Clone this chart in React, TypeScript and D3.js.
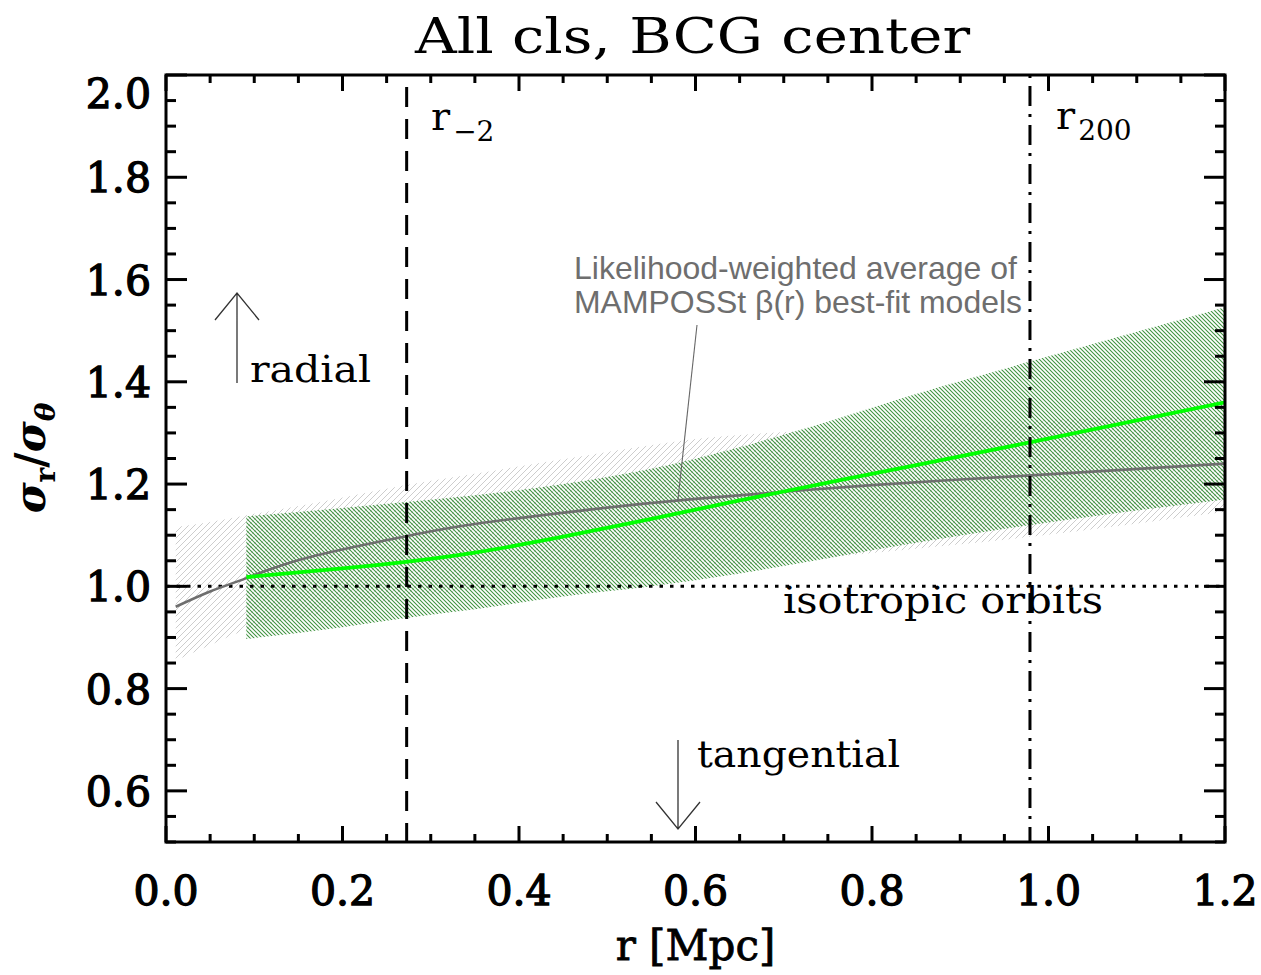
import React, { useEffect, useRef } from "react";
import * as d3 from "d3";

// grey: likelihood-weighted average of MAMPOSSt beta(r) best-fit models
const greyR = [0.011, 0.05, 0.091, 0.16, 0.272, 0.35, 0.48, 0.6, 0.8, 0.98, 1.2];
const greyMid = [0.96, 0.99, 1.016, 1.056, 1.098, 1.122, 1.15, 1.171, 1.198, 1.217, 1.24];
const greyHi = [1.116, 1.126, 1.139, 1.16, 1.198, 1.22, 1.257, 1.288, 1.31, 1.325, 1.335];
const greyLo = [0.855, 0.885, 0.915, 0.94, 0.975, 0.995, 1.01, 1.03, 1.065, 1.097, 1.146];

// green: this work
const greenR = [0.091, 0.2, 0.272, 0.35, 0.45, 0.55, 0.65, 0.75, 0.85, 0.98, 1.2];
const greenMid = [1.018, 1.035, 1.048, 1.066, 1.097, 1.132, 1.168, 1.203, 1.237, 1.282, 1.36];
const greenHi = [1.137, 1.153, 1.165, 1.178, 1.2, 1.23, 1.272, 1.322, 1.376, 1.44, 1.546];
const greenLo = [0.897, 0.92, 0.938, 0.955, 0.98, 1.0, 1.025, 1.055, 1.085, 1.12, 1.17];

const xTicks = [0, 0.2, 0.4, 0.6, 0.8, 1.0, 1.2];
const yTicks = [0.6, 0.8, 1.0, 1.2, 1.4, 1.6, 1.8, 2.0];
const rMinus2 = 0.2727;
const r200 = 0.979;

const serif = "'DejaVu Serif', serif";

const App = () => {
  const ref = useRef<SVGSVGElement>(null);

  useEffect(() => {
    const width = 1261;
    const height = 975;
    const svg = d3.select(ref.current);
    svg.selectAll("*").remove();
    svg.attr("width", width).attr("height", height);

    const x = d3.scaleLinear().domain([0, 1.2]).range([166, 1225]);
    const y = d3.scaleLinear().domain([0.5, 2.0]).range([842, 75]);
    const [x0, x1] = x.range();
    const [y0, y1] = y.range();

    const defs = svg.append("defs");
    defs
      .append("clipPath")
      .attr("id", "plotclip")
      .append("rect")
      .attr("x", x0)
      .attr("y", y1)
      .attr("width", x1 - x0)
      .attr("height", y0 - y1);

    // hatch patterns
    defs
      .append("pattern")
      .attr("id", "hatchGrey")
      .attr("patternUnits", "userSpaceOnUse")
      .attr("width", 6)
      .attr("height", 6)
      .append("path")
      .attr("d", "M-1,7 L7,-1 M-1,1 L1,-1 M5,7 L7,5")
      .attr("stroke", "#cacaca")
      .attr("stroke-width", 0.95);
    defs
      .append("pattern")
      .attr("id", "hatchGreen")
      .attr("patternUnits", "userSpaceOnUse")
      .attr("width", 4)
      .attr("height", 4)
      .append("path")
      .attr("d", "M-1,-1 L5,5 M-1,3 L1,5 M3,-1 L5,1")
      .attr("stroke", "#3f923f")
      .attr("stroke-width", 1.05);

    const plot = svg.append("g").attr("clip-path", "url(#plotclip)");

    const band = (rs, lo, hi) =>
      d3
        .area<number>()
        .x((d) => x(rs[d]))
        .y0((d) => y(lo[d]))
        .y1((d) => y(hi[d]))
        .curve(d3.curveMonotoneX)(d3.range(rs.length));
    const line = (rs, vs) =>
      d3
        .line<number>()
        .x((d) => x(rs[d]))
        .y((d) => y(vs[d]))
        .curve(d3.curveNatural)(d3.range(rs.length));

    plot.append("path").attr("d", band(greyR, greyLo, greyHi)).attr("fill", "url(#hatchGrey)");
    plot.append("path").attr("d", band(greenR, greenLo, greenHi)).attr("fill", "url(#hatchGreen)");

    // isotropic line
    plot
      .append("line")
      .attr("x1", x0)
      .attr("x2", x1)
      .attr("y1", y(1))
      .attr("y2", y(1))
      .attr("stroke", "#000")
      .attr("stroke-width", 3)
      .attr("stroke-dasharray", "3.5,7");

    plot
      .append("path")
      .attr("d", line(greyR, greyMid))
      .attr("fill", "none")
      .attr("stroke", "#6e6e6e")
      .attr("stroke-width", 2.6);
    plot
      .append("path")
      .attr("d", line(greenR, greenMid))
      .attr("fill", "none")
      .attr("stroke", "#00ff00")
      .attr("stroke-width", 3.8);

    // r_-2 and r200
    plot
      .append("line")
      .attr("x1", x(rMinus2))
      .attr("x2", x(rMinus2))
      .attr("y1", y1)
      .attr("y2", y0)
      .attr("stroke", "#000")
      .attr("stroke-width", 3)
      .attr("stroke-dasharray", "20,12")
      .attr("stroke-dashoffset", -12);
    plot
      .append("line")
      .attr("x1", x(r200))
      .attr("x2", x(r200))
      .attr("y1", y1)
      .attr("y2", y0)
      .attr("stroke", "#000")
      .attr("stroke-width", 3)
      .attr("stroke-dasharray", "3,8,20,8");

    // annotation pointer
    svg
      .append("line")
      .attr("x1", 697)
      .attr("y1", 325)
      .attr("x2", x(0.58))
      .attr("y2", y(1.168))
      .attr("stroke", "#666")
      .attr("stroke-width", 1.1);

    const ann = svg
      .append("g")
      .attr("font-family", "'Liberation Sans', Arial, sans-serif")
      .attr("font-size", 32)
      .attr("fill", "#6e6e6e");
    ann
      .append("text")
      .attr("x", 574)
      .attr("y", 279)
      .attr("textLength", 443)
      .attr("lengthAdjust", "spacingAndGlyphs")
      .text("Likelihood-weighted average of");
    ann
      .append("text")
      .attr("x", 574)
      .attr("y", 313)
      .attr("textLength", 448)
      .attr("lengthAdjust", "spacingAndGlyphs")
      .text("MAMPOSSt β(r) best-fit models");

    // arrows
    const arrow = (ax, ya, yb) => {
      const dir = yb < ya ? 1 : -1;
      svg
        .append("path")
        .attr(
          "d",
          `M${ax},${ya} L${ax},${yb} M${ax - 22},${yb + dir * 27} L${ax},${yb} L${ax + 22},${yb + dir * 27}`
        )
        .attr("fill", "none")
        .attr("stroke", "#333")
        .attr("stroke-width", 1.3);
    };
    arrow(237, 383, 293);
    arrow(678, 740, 829);

    const txt = svg.append("g").attr("font-family", serif).attr("fill", "#000");
    const label = (s, tx, ty, size, len) =>
      txt
        .append("text")
        .attr("x", tx)
        .attr("y", ty)
        .attr("font-size", size)
        .attr("textLength", len)
        .attr("lengthAdjust", "spacingAndGlyphs")
        .text(s);
    label("radial", 250, 382, 38, 121);
    label("tangential", 697, 767, 38, 203);
    label("isotropic orbits", 783, 613, 38, 320);

    // r_-2 and r200 labels
    const sub = (main, s, tx, ty) => {
      const t = txt.append("text").attr("x", tx).attr("y", ty).attr("font-size", 40);
      t.append("tspan").text(main);
      t.append("tspan").attr("font-size", 28).attr("dy", 11).attr("dx", 3).text(s);
    };
    sub("r", "−2", 431, 130);
    sub("r", "200", 1056, 129);

    // title and axis titles
    txt
      .append("text")
      .attr("x", 415)
      .attr("y", 53)
      .attr("font-size", 48)
      .attr("textLength", 555)
      .attr("lengthAdjust", "spacingAndGlyphs")
      .text("All cls, BCG center");
    txt
      .append("text")
      .attr("x", (x0 + x1) / 2)
      .attr("y", 960)
      .attr("font-size", 42)
      .attr("text-anchor", "middle")
      .attr("stroke", "#000")
      .attr("stroke-width", 0.8)
      .text("r [Mpc]");

    const yl = txt
      .append("text")
      .attr("transform", "translate(45,458) rotate(-90)")
      .attr("text-anchor", "middle")
      .attr("font-size", 42)
      .attr("font-weight", "bold");
    yl.append("tspan").attr("font-style", "italic").text("σ");
    yl.append("tspan").attr("font-size", 28).attr("dy", 10).text("r");
    yl.append("tspan").attr("dy", -10).text("/");
    yl.append("tspan").attr("font-style", "italic").text("σ");
    yl.append("tspan").attr("font-size", 28).attr("font-style", "italic").attr("dy", 10).text("θ");

    // tick labels
    txt
      .selectAll("text.xt")
      .data(xTicks)
      .join("text")
      .attr("class", "xt")
      .attr("x", (d) => x(d))
      .attr("y", 905)
      .attr("font-size", 41)
      .attr("text-anchor", "middle")
      .attr("stroke", "#000")
      .attr("stroke-width", 1.3)
      .text((d) => d.toFixed(1));
    txt
      .selectAll("text.yt")
      .data(yTicks)
      .join("text")
      .attr("class", "yt")
      .attr("x", 151)
      .attr("y", (d) => Math.max(y(d) + 15, 108))
      .attr("font-size", 41)
      .attr("text-anchor", "end")
      .attr("stroke", "#000")
      .attr("stroke-width", 1.3)
      .text((d) => d.toFixed(1));

    // frame and ticks (all four sides, pointing inward)
    const ax = svg.append("g").attr("stroke", "#000").attr("stroke-width", 3);
    const xMinor = d3.range(0, 1.2001, 0.05);
    const yMinor = d3.range(0.5, 2.0001, 0.05);
    const isMajor = (v) => Math.abs(v * 5 - Math.round(v * 5)) < 1e-6;
    ax.selectAll("line.xb")
      .data(xMinor)
      .join("line")
      .attr("x1", (d) => x(d))
      .attr("x2", (d) => x(d))
      .attr("y1", y0)
      .attr("y2", (d) => y0 - (isMajor(d) ? 16 : 8));
    ax.selectAll("line.xtop")
      .data(xMinor)
      .join("line")
      .attr("class", "xtop")
      .attr("x1", (d) => x(d))
      .attr("x2", (d) => x(d))
      .attr("y1", y1)
      .attr("y2", (d) => y1 + (isMajor(d) ? 16 : 8));
    ax.selectAll("line.yl")
      .data(yMinor)
      .join("line")
      .attr("class", "yl")
      .attr("y1", (d) => y(d))
      .attr("y2", (d) => y(d))
      .attr("x1", x0)
      .attr("x2", (d) => x0 + (isMajor(d) ? 21 : 10));
    ax.selectAll("line.yr")
      .data(yMinor)
      .join("line")
      .attr("class", "yr")
      .attr("y1", (d) => y(d))
      .attr("y2", (d) => y(d))
      .attr("x1", x1)
      .attr("x2", (d) => x1 - (isMajor(d) ? 21 : 10));
    ax.append("rect")
      .attr("x", x0)
      .attr("y", y1)
      .attr("width", x1 - x0)
      .attr("height", y0 - y1)
      .attr("fill", "none");
  }, []);

  return (
    <svg
      ref={ref}
      width={1261}
      height={975}
      style={{ position: "absolute", left: 0, top: 0, background: "#fff" }}
    />
  );
};

export default App;
